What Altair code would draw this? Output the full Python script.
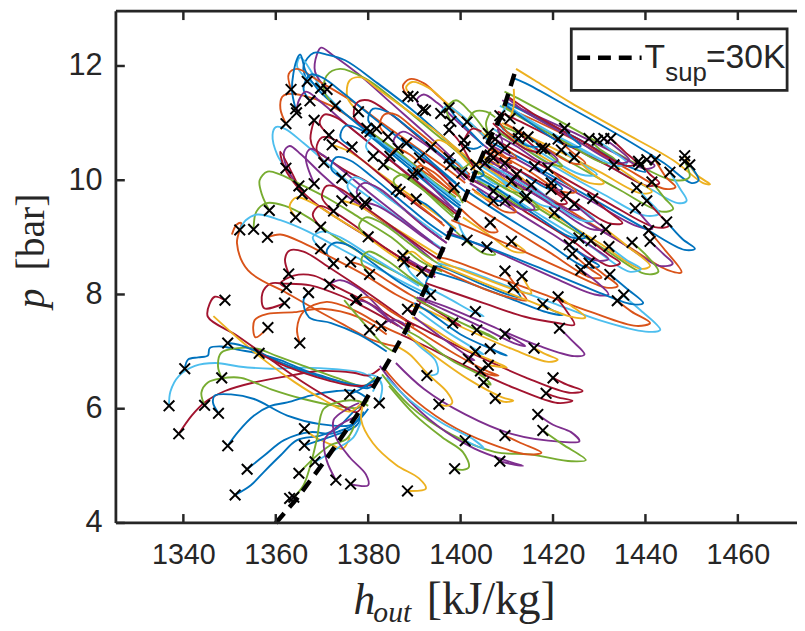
import altair as alt
import pandas as pd

# ---------------- axes ----------------
x_ticks = [1340, 1360, 1380, 1400, 1420, 1440, 1460]
y_ticks = [4, 6, 8, 10, 12]
X_DOMAIN = [1325.4, 1472.8]
Y_DOMAIN = [4.0, 12.96]

# ---------------- T_sup = 30K reference line ----------------
sup_h = [1360.0, 1364.6, 1371.0, 1377.5, 1384.6, 1388.2, 1392.5, 1396.0, 1400.5, 1403.5, 1406.0, 1408.9, 1412.1]
sup_p = [4.0, 4.43, 5.13, 5.88, 6.86, 7.38, 8.13, 8.77, 9.6, 10.2, 10.68, 11.14, 11.98]

# ---------------- start markers (x) ----------------
marker_h = [
    1363.3, 1366.8, 1369.7, 1371.1, 1367.4, 1364.3, 1364.5, 1362.2, 1368.3, 1372.9, 1377.9, 1379.7,
    1381.8, 1380.4, 1384.3, 1388.6, 1389.7, 1391.8, 1392.4, 1395.7, 1397.5, 1397.9, 1397.5, 1371.5,
    1372.2, 1376.5, 1370.4, 1381.1, 1384.7, 1386.5, 1388.3, 1383.3, 1393.6, 1391.1, 1397.5, 1389.7,
    1390.8, 1398.6, 1362.2, 1365.0, 1365.7, 1368.3, 1374.3, 1374.3, 1377.2, 1379.3, 1372.5, 1386.1,
    1386.9, 1390.4, 1358.6, 1364.3, 1352.2, 1355.2, 1358.2, 1369.7, 1380.0, 1369.7, 1387.5,
    1401.4, 1408.5, 1410.7, 1406.0, 1407.5, 1400.7, 1401.0, 1406.8, 1406.4, 1412.5, 1414.6, 1412.5,
    1417.5, 1418.2, 1422.5, 1421.1, 1427.8, 1429.6, 1431.0, 1432.5, 1421.8, 1424.6, 1397.8, 1405.3,
    1407.1, 1409.6, 1438.5, 1440.3, 1442.1, 1438.8, 1448.5, 1449.6, 1448.5, 1433.2, 1445.3, 1441.4,
    1438.1, 1440.3, 1437.8, 1444.6, 1431.4, 1440.7, 1441.0, 1416.0, 1418.9, 1412.1, 1411.0, 1415.3,
    1419.6, 1419.6, 1407.1, 1409.6, 1407.1, 1414.3, 1422.8, 1424.6, 1428.6, 1420.3, 1406.4, 1411.0,
    1405.7, 1401.4, 1423.5, 1425.6, 1428.2, 1432.1, 1437.1, 1424.2, 1400.3, 1403.3, 1409.6, 1413.9,
    1427.8, 1426.0, 1432.3, 1435.3, 1433.9, 1421.1, 1417.8, 1409.6, 1413.3, 1411.4, 1403.2, 1398.3,
    1403.5, 1409.6, 1421.4, 1415.9, 1403.2, 1401.7, 1406.4, 1406.0, 1404.3, 1405.0, 1407.5, 1420.0,
    1418.5, 1395.3, 1416.7, 1417.8, 1409.6, 1401.0, 1408.5, 1398.7,
    1379.6, 1387.8, 1391.6, 1380.3, 1377.5, 1388.5, 1393.5, 1380.3, 1382.8, 1392.7, 1382.4, 1388.5,
    1372.5, 1376.2,
    1349.0, 1362.8, 1362.3, 1367.1, 1371.6, 1361.9, 1377.3, 1358.3, 1365.2, 1349.6, 1356.4, 1340.3,
    1348.3, 1336.9, 1344.6, 1347.6, 1339.0, 1349.6, 1353.8, 1351.2, 1376.0, 1366.2, 1366.2, 1368.5,
    1365.0, 1373.0, 1376.2, 1363.0, 1363.9,
]
marker_p = [
    11.59, 11.73, 11.61, 11.59, 11.39, 11.25, 11.18, 10.99, 11.05, 11.30, 11.20, 10.91,
    10.90, 10.85, 10.76, 11.47, 11.46, 11.24, 11.22, 11.17, 11.27, 11.03, 10.88, 10.79,
    10.62, 10.58, 10.31, 10.42, 10.42, 10.56, 10.65, 10.27, 10.58, 10.39, 10.39, 10.10,
    10.13, 9.87, 10.21, 9.90, 9.76, 9.94, 10.04, 9.64, 9.69, 9.61, 9.46, 9.84,
    9.80, 9.67, 9.47, 9.35, 9.13, 9.14, 9.00, 9.18, 9.01, 8.80, 8.68,
    11.02, 11.13, 11.08, 10.82, 10.72, 10.70, 10.59, 10.57, 10.44, 10.84, 10.76, 10.73,
    10.56, 10.55, 10.91, 10.72, 10.73, 10.70, 10.73, 10.73, 10.53, 10.40, 10.27, 10.30,
    10.39, 10.30, 10.33, 10.36, 10.36, 10.27, 10.43, 10.27, 10.33, 10.27, 10.14, 9.97,
    9.87, 9.64, 9.51, 9.27, 9.14, 9.12, 8.93, 10.24, 10.21, 10.10, 9.98, 9.92,
    9.95, 9.84, 9.81, 9.64, 9.64, 9.72, 9.72, 9.58, 9.68, 9.43, 9.26, 8.93,
    8.83, 8.95, 8.87, 8.99, 8.94, 8.84, 8.91, 8.71, 10.13, 10.27, 10.56, 9.69,
    8.55, 8.43, 8.35, 7.99, 7.89, 7.96, 7.83, 8.41, 8.32, 8.12, 7.70, 7.50,
    7.38, 7.31, 7.41, 7.06, 7.00, 6.87, 7.05, 6.76, 6.66, 6.46, 6.18, 6.54,
    6.27, 6.08, 5.90, 5.62, 5.53, 5.44, 5.08, 4.95,
    9.58, 8.57, 8.41, 8.35, 7.91, 7.74, 7.99, 7.38, 7.45, 6.58, 6.10, 4.56,
    8.54, 8.57,
    7.90, 8.36, 8.12, 8.03, 8.18, 7.85, 7.90, 7.42, 7.15, 7.15, 6.97, 6.70,
    6.54, 6.05, 6.06, 5.92, 5.56, 5.35, 4.94, 4.49, 6.25, 5.65, 5.36, 5.07,
    4.87, 4.75, 4.68, 4.43, 4.45,
]

# ---------------- trajectories (colour key, [(h, p), ...]) ----------------
lower_left_tracks = [
    ("c", [(1336.9, 6.05), (1337.2, 6.3), (1339.0, 6.57), (1342.5, 6.75), (1347.0, 6.8), (1352.0, 6.74), (1359.0, 6.7), (1366.0, 6.72), (1373.0, 6.69), (1379.0, 6.62), (1381.5, 6.45), (1381.0, 6.3)]),
    ("b", [(1340.3, 6.7), (1341.0, 6.86), (1343.2, 6.9), (1345.3, 6.93), (1345.7, 7.06), (1348.2, 7.09), (1352.0, 7.03), (1356.0, 6.97), (1361.0, 6.85), (1366.0, 6.68), (1371.0, 6.55), (1376.0, 6.43), (1380.0, 6.36), (1382.0, 6.5)]),
    ("r", [(1339.0, 5.56), (1341.8, 5.88), (1344.6, 6.11), (1349.0, 6.31), (1355.3, 6.46), (1362.5, 6.57), (1369.6, 6.66), (1376.8, 6.63), (1380.0, 6.58), (1382.5, 6.7)]),
    ("g", [(1348.3, 6.54), (1347.5, 6.74), (1348.2, 6.98), (1351.8, 7.06), (1356.0, 7.05), (1360.3, 6.92), (1366.0, 6.75), (1373.2, 6.54), (1379.0, 6.4), (1381.5, 6.55)]),
    ("g", [(1344.6, 6.06), (1343.9, 6.28), (1345.3, 6.46), (1348.2, 6.53), (1352.5, 6.54), (1359.0, 6.34), (1366.0, 6.17), (1373.2, 6.05), (1378.0, 6.02), (1380.0, 6.15)]),
    ("b", [(1347.6, 5.92), (1346.4, 6.11), (1346.8, 6.23), (1350.3, 6.25), (1355.3, 6.17), (1362.5, 5.88), (1369.6, 5.73), (1376.0, 5.71), (1378.5, 5.85), (1380.0, 6.0)]),
    ("b", [(1349.6, 5.35), (1351.8, 5.59), (1355.3, 5.88), (1358.9, 6.05), (1362.5, 6.11), (1367.5, 6.23), (1373.2, 6.31), (1377.0, 6.31), (1379.5, 6.2)]),
    ("b", [(1353.8, 4.94), (1357.5, 5.18), (1361.8, 5.45), (1367.5, 5.59), (1371.8, 5.56), (1373.5, 5.6), (1376.8, 5.72), (1378.5, 5.9)]),
    ("b", [(1351.2, 4.49), (1354.6, 4.66), (1357.5, 4.9), (1361.0, 5.18), (1364.6, 5.45), (1369.6, 5.53), (1373.2, 5.65), (1376.0, 5.88), (1378.0, 6.05)]),
    ("r", [(1349.0, 7.9), (1346.8, 7.96), (1345.7, 7.84), (1345.3, 7.61), (1351.8, 7.27), (1358.9, 6.86), (1366.0, 6.46), (1373.2, 6.11), (1377.5, 5.94), (1379.0, 6.1)]),
    ("y", [(1346.5, 7.62), (1352.0, 7.22), (1358.0, 6.82), (1364.0, 6.47), (1370.0, 6.17), (1376.0, 5.95), (1378.5, 6.1)]),
    ("b", [(1349.6, 7.15), (1352.0, 7.12), (1356.0, 7.0), (1362.0, 6.78), (1368.0, 6.6), (1375.0, 6.45), (1380.0, 6.38)]),
    ("r", [(1356.4, 6.97), (1362.0, 6.75), (1369.0, 6.55), (1377.0, 6.4), (1381.0, 6.42)]),
    ("y", [(1366.2, 5.65), (1368.5, 5.5), (1371.8, 5.38), (1374.5, 5.3), (1376.0, 5.5)]),
    ("b", [(1366.2, 5.36), (1370.3, 5.47), (1374.6, 5.59), (1377.5, 5.71), (1379.0, 5.95)]),
    ("g", [(1363.9, 4.45), (1366.0, 4.66), (1367.5, 5.01), (1368.9, 5.47), (1370.3, 5.99), (1373.2, 6.11), (1377.5, 6.14), (1380.0, 6.05)]),
    ("g", [(1365.0, 4.87), (1368.2, 5.13), (1371.8, 5.36), (1375.3, 5.47), (1377.0, 5.7)]),
    ("c", [(1368.5, 5.07), (1373.2, 5.3), (1376.8, 5.5), (1378.5, 5.8)]),
    ("p", [(1376.2, 4.68), (1380.0, 4.66), (1379.5, 4.85), (1376.0, 5.15), (1373.0, 5.5), (1372.5, 5.8), (1375.5, 6.0), (1378.0, 6.1)]),
    ("p", [(1373.0, 4.75), (1371.0, 5.1), (1370.5, 5.45), (1373.5, 5.7), (1377.0, 5.85)]),
    ("y", [(1388.5, 4.56), (1392.5, 4.6), (1391.0, 4.78), (1386.0, 5.02), (1381.0, 5.4), (1378.5, 5.8), (1379.0, 6.1)]),
    ("r", [(1362.3, 8.12), (1361.0, 8.19), (1363.9, 8.33), (1368.2, 8.33), (1373.2, 8.13), (1380.3, 7.84), (1386.0, 7.55), (1389.0, 7.4)]),
    ("r", [(1361.9, 7.85), (1357.5, 7.76), (1357.1, 8.02), (1358.9, 8.19), (1361.8, 8.19), (1367.5, 8.16), (1374.6, 7.96), (1380.3, 7.73), (1386.5, 7.45)]),
    ("o", [(1358.3, 7.42), (1355.6, 7.25), (1355.4, 7.55), (1358.2, 7.66), (1364.0, 7.69), (1370.0, 7.75), (1378.0, 7.6), (1384.0, 7.3)]),
    ("o", [(1365.2, 7.15), (1364.6, 7.4), (1366.0, 7.7), (1371.0, 7.87), (1377.0, 7.72), (1383.0, 7.45), (1387.0, 7.3)]),
    ("o", [(1350.5, 9.05), (1351.5, 9.22), (1352.5, 9.25), (1351.6, 8.9), (1354.0, 8.42), (1362.5, 8.02), (1369.0, 7.72), (1375.4, 7.44), (1381.0, 7.2), (1386.0, 7.09)]),
    ("b", [(1367.1, 8.03), (1366.0, 7.9), (1367.2, 7.6), (1372.0, 7.5), (1378.0, 7.3), (1384.0, 7.0)]),
    ("p", [(1371.6, 8.18), (1374.0, 8.25), (1378.0, 8.1), (1382.5, 7.75), (1385.0, 7.5)]),
    ("r", [(1362.8, 8.36), (1362.0, 8.62), (1363.0, 8.77), (1366.0, 8.75), (1372.0, 8.45), (1380.0, 8.02), (1387.0, 7.62), (1390.0, 7.45)]),
    ("b", [(1376.0, 6.25), (1378.5, 6.35), (1381.0, 6.48), (1383.0, 6.55)]),
    ("c", [(1382.4, 6.1), (1383.0, 6.4), (1382.0, 6.55), (1380.0, 6.6)]),
    ("p", [(1377.3, 7.9), (1380.0, 7.85), (1384.0, 7.6), (1387.5, 7.4)]),
    ("g", [(1374.8, 7.9), (1380.3, 7.38), (1383.5, 7.1), (1385.5, 7.0)]),
    ("p", [(1382.8, 7.45), (1385.0, 7.55), (1387.5, 7.5), (1389.0, 7.35)]),
]

upper_left_tracks = [
    ("p", [(1371.1, 11.59), (1368.5, 11.9), (1368.9, 12.2), (1369.8, 12.32), (1372.5, 12.18), (1378.0, 11.85), (1385.0, 11.35), (1392.0, 10.85), (1398.0, 10.4), (1402.0, 10.05)]),
    ("b", [(1366.8, 11.73), (1366.0, 12.0), (1368.2, 12.23), (1371.0, 12.2), (1375.0, 12.1), (1382.0, 11.7), (1390.0, 11.2), (1397.0, 10.7), (1403.0, 10.25)]),
    ("c", [(1369.7, 11.61), (1365.3, 12.15), (1364.6, 12.0), (1366.0, 11.83), (1369.6, 11.6), (1373.9, 11.25), (1379.6, 10.85), (1386.0, 10.4), (1393.0, 9.95), (1399.0, 9.55)]),
    ("o", [(1363.3, 11.59), (1362.8, 11.86), (1364.6, 11.95), (1369.6, 11.72), (1376.8, 11.37), (1383.0, 11.0), (1390.0, 10.6), (1397.0, 10.2), (1401.0, 9.95)]),
    ("o", [(1362.2, 10.99), (1361.0, 11.25), (1361.4, 11.46), (1362.5, 11.51), (1366.0, 11.48), (1371.8, 11.31), (1379.6, 10.9), (1386.0, 10.5), (1393.0, 10.1), (1400.0, 9.7)]),
    ("c", [(1362.2, 10.21), (1360.3, 10.45), (1359.3, 10.79), (1360.0, 10.93), (1362.0, 10.9), (1366.0, 10.65), (1371.0, 10.3), (1376.0, 9.95), (1382.0, 9.6), (1389.0, 9.2), (1396.0, 8.8)]),
    ("r", [(1368.3, 11.05), (1367.5, 10.73), (1368.2, 10.56), (1371.0, 10.39), (1375.3, 10.16), (1379.6, 9.98), (1386.0, 9.6), (1392.0, 9.2), (1397.0, 8.9)]),
    ("p", [(1365.0, 9.9), (1362.5, 10.2), (1361.8, 10.5), (1363.0, 10.6), (1365.5, 10.45), (1370.0, 10.1), (1375.0, 9.75), (1381.0, 9.4), (1388.0, 9.0), (1394.0, 8.6)]),
    ("p", [(1368.3, 9.94), (1366.5, 10.4), (1367.5, 10.55), (1370.0, 10.45), (1374.0, 10.2), (1380.0, 9.8), (1387.0, 9.35), (1394.0, 8.9)]),
    ("r", [(1365.7, 9.76), (1361.0, 10.5), (1361.5, 10.3), (1363.5, 10.0), (1368.5, 9.6), (1374.0, 9.3), (1381.0, 8.95), (1388.0, 8.6), (1394.0, 8.4)]),
    ("g", [(1358.6, 9.47), (1357.0, 9.75), (1356.5, 10.0), (1358.2, 10.15), (1361.0, 10.1), (1366.0, 9.9), (1372.0, 9.65), (1378.0, 9.35), (1385.0, 9.0), (1391.0, 8.6), (1396.0, 8.4)]),
    ("g", [(1355.2, 9.14), (1355.8, 9.45), (1358.0, 9.6), (1362.0, 9.55), (1367.0, 9.35), (1373.0, 9.0), (1380.0, 8.65), (1387.0, 8.35), (1393.0, 8.1)]),
    ("c", [(1352.2, 9.13), (1353.5, 9.3), (1356.0, 9.4), (1361.0, 9.3), (1367.0, 9.1), (1374.0, 8.8), (1381.0, 8.5), (1388.0, 8.2), (1393.0, 8.0)]),
    ("b", [(1364.3, 11.25), (1363.5, 11.6), (1364.5, 12.1), (1365.3, 12.2), (1366.5, 11.9), (1369.0, 11.6), (1373.0, 11.3), (1379.0, 10.9), (1386.0, 10.45), (1393.0, 10.0), (1400.0, 9.55)]),
    ("g", [(1372.9, 11.3), (1370.5, 11.55), (1371.0, 11.83), (1373.9, 11.95), (1379.6, 11.77), (1385.0, 11.45), (1391.0, 11.05), (1397.0, 10.65), (1403.0, 10.25)]),
    ("y", [(1377.9, 11.2), (1375.5, 11.45), (1376.0, 11.75), (1378.5, 11.8), (1382.0, 11.6), (1388.0, 11.25), (1394.0, 10.9), (1400.0, 10.5), (1404.0, 10.25)]),
    ("o", [(1388.6, 11.47), (1387.5, 11.65), (1389.0, 11.77), (1392.0, 11.7), (1395.5, 11.45), (1399.0, 11.2), (1404.0, 10.85), (1407.0, 10.6)]),
    ("y", [(1389.7, 11.46), (1388.2, 11.62), (1389.5, 11.72), (1393.0, 11.62), (1397.0, 11.35), (1402.0, 11.0), (1406.0, 10.75)]),
    ("b", [(1367.4, 11.39), (1366.0, 11.6), (1367.5, 11.85), (1370.0, 11.8), (1375.0, 11.5), (1381.0, 11.1), (1388.0, 10.65), (1395.0, 10.2), (1401.0, 9.8)]),
    ("p", [(1364.5, 11.18), (1365.0, 11.4), (1366.5, 11.55), (1370.0, 11.35), (1375.0, 11.0), (1381.0, 10.6), (1388.0, 10.15), (1395.0, 9.7), (1400.0, 9.4)]),
    ("r", [(1379.7, 10.91), (1377.0, 11.1), (1377.5, 11.35), (1380.0, 11.4), (1385.0, 11.15), (1391.0, 10.75), (1397.0, 10.35), (1402.0, 10.0)]),
    ("b", [(1381.8, 10.9), (1380.0, 11.05), (1381.0, 11.25), (1384.0, 11.2), (1389.0, 10.9), (1395.0, 10.5), (1401.0, 10.1)]),
    ("g", [(1380.4, 10.85), (1383.0, 10.7), (1388.0, 10.4), (1393.0, 10.05), (1399.0, 9.7)]),
    ("o", [(1384.3, 10.76), (1382.5, 10.95), (1383.5, 11.15), (1386.0, 11.15), (1390.0, 10.9), (1396.0, 10.5), (1402.0, 10.1)]),
    ("p", [(1391.8, 11.24), (1390.5, 11.4), (1392.0, 11.5), (1395.0, 11.35), (1399.0, 11.05), (1403.0, 10.75), (1406.0, 10.55)]),
    ("c", [(1395.7, 11.17), (1397.0, 11.3), (1400.0, 11.15), (1403.5, 10.9), (1406.5, 10.65)]),
    ("b", [(1397.5, 11.27), (1399.0, 11.1), (1401.5, 10.9), (1405.0, 10.6)]),
    ("g", [(1397.9, 11.03), (1397.0, 11.25), (1399.0, 11.4), (1402.0, 11.2), (1405.0, 10.9), (1406.5, 10.7)]),
    ("r", [(1397.5, 10.88), (1399.5, 10.7), (1401.0, 10.5), (1403.0, 10.2)]),
    ("r", [(1371.5, 10.79), (1369.5, 11.0), (1370.5, 11.15), (1373.0, 11.1), (1378.0, 10.8), (1384.0, 10.4), (1390.0, 10.0), (1396.0, 9.6), (1400.0, 9.35)]),
    ("y", [(1372.2, 10.62), (1376.0, 10.5), (1382.0, 10.15), (1388.0, 9.8), (1394.0, 9.45), (1399.0, 9.15)]),
    ("b", [(1376.5, 10.58), (1374.0, 10.75), (1375.0, 10.95), (1378.0, 10.9), (1383.0, 10.6), (1389.0, 10.2), (1395.0, 9.8), (1400.0, 9.5)]),
    ("r", [(1370.4, 10.31), (1368.8, 10.55), (1370.0, 10.75), (1373.0, 10.7), (1378.0, 10.4), (1384.0, 10.0), (1390.0, 9.6), (1396.0, 9.25)]),
    ("c", [(1381.1, 10.42), (1379.5, 10.6), (1381.0, 10.75), (1384.0, 10.6), (1389.0, 10.3), (1395.0, 9.9), (1400.0, 9.6)]),
    ("o", [(1384.7, 10.42), (1386.0, 10.55), (1389.0, 10.45), (1393.0, 10.15), (1398.0, 9.8)]),
    ("p", [(1386.5, 10.56), (1385.5, 10.7), (1387.5, 10.85), (1391.0, 10.7), (1396.0, 10.4), (1401.0, 10.0)]),
    ("b", [(1388.3, 10.65), (1390.5, 10.55), (1394.0, 10.3), (1399.0, 9.95)]),
    ("g", [(1383.3, 10.27), (1385.0, 10.2), (1389.0, 10.0), (1394.0, 9.7), (1398.5, 9.4)]),
    ("y", [(1393.6, 10.58), (1395.0, 10.7), (1398.0, 10.6), (1401.0, 10.35), (1404.0, 10.1)]),
    ("r", [(1391.1, 10.39), (1393.0, 10.3), (1396.0, 10.1), (1399.0, 9.85)]),
    ("c", [(1397.5, 10.39), (1399.5, 10.3), (1401.5, 10.1)]),
    ("o", [(1389.7, 10.1), (1391.0, 10.25), (1394.0, 10.15), (1397.5, 9.9), (1400.0, 9.7)]),
    ("p", [(1390.8, 10.13), (1393.0, 9.95), (1396.0, 9.7), (1398.5, 9.5)]),
    ("g", [(1398.6, 9.87), (1399.5, 9.75), (1400.5, 9.6)]),
    ("b", [(1374.3, 10.04), (1372.0, 10.2), (1373.0, 10.4), (1376.0, 10.35), (1381.0, 10.05), (1387.0, 9.65), (1393.0, 9.25), (1397.5, 9.0)]),
    ("y", [(1374.3, 9.64), (1378.0, 9.55), (1383.0, 9.3), (1389.0, 9.0), (1395.0, 8.7)]),
    ("c", [(1377.2, 9.69), (1375.5, 9.9), (1377.0, 10.05), (1380.0, 9.95), (1385.0, 9.65), (1391.0, 9.3), (1396.0, 9.0)]),
    ("p", [(1379.3, 9.61), (1382.0, 9.55), (1387.0, 9.3), (1392.0, 9.0), (1396.5, 8.75)]),
    ("r", [(1372.5, 9.46), (1370.0, 9.7), (1371.0, 9.9), (1374.0, 9.85), (1379.0, 9.55), (1385.0, 9.2), (1391.0, 8.85), (1395.5, 8.6)]),
    ("o", [(1386.1, 9.84), (1388.0, 9.75), (1392.0, 9.5), (1396.5, 9.2)]),
    ("g", [(1386.9, 9.8), (1385.5, 10.0), (1387.5, 10.1), (1391.0, 9.9), (1395.0, 9.6), (1398.5, 9.35)]),
    ("b", [(1390.4, 9.67), (1393.0, 9.55), (1396.5, 9.3), (1399.0, 9.1)]),
    ("y", [(1364.3, 9.35), (1363.0, 9.55), (1364.5, 9.7), (1368.0, 9.6), (1373.0, 9.35), (1379.0, 9.05), (1385.0, 8.7), (1390.0, 8.45), (1394.0, 8.3)]),
    ("r", [(1369.7, 9.18), (1368.0, 9.4), (1369.5, 9.55), (1372.5, 9.45), (1378.0, 9.15), (1384.0, 8.8), (1390.0, 8.5), (1394.5, 8.35)]),
    ("g", [(1380.0, 9.01), (1378.0, 9.2), (1379.5, 9.35), (1383.0, 9.25), (1388.0, 8.95), (1393.0, 8.65), (1396.0, 8.5)]),
    ("c", [(1369.7, 8.8), (1368.0, 9.0), (1370.0, 9.1), (1374.0, 9.0), (1380.0, 8.7), (1386.0, 8.4), (1391.0, 8.15)]),
    ("p", [(1387.5, 8.68), (1389.0, 8.6), (1392.0, 8.45), (1394.5, 8.3)]),
    ("b", [(1372.5, 8.54), (1371.0, 8.75), (1372.5, 8.9), (1376.0, 8.85), (1381.0, 8.55), (1387.0, 8.2), (1391.5, 8.0)]),
    ("o", [(1376.2, 8.57), (1379.0, 8.5), (1384.0, 8.25), (1389.0, 8.0), (1392.5, 7.85)]),
    ("p", [(1379.6, 9.58), (1377.5, 9.8), (1379.0, 9.95), (1382.5, 9.85), (1387.0, 9.55), (1392.0, 9.2), (1397.0, 8.9)]),
    ("y", [(1387.8, 8.68), (1389.5, 8.75), (1392.0, 8.6), (1395.0, 8.45)]),
    ("c", [(1387.8, 8.57), (1389.0, 8.4), (1391.5, 8.2), (1393.0, 8.1)]),
    ("b", [(1391.6, 8.41), (1393.0, 8.3), (1394.5, 8.45)]),
    ("g", [(1380.3, 8.35), (1378.5, 8.6), (1380.0, 8.75), (1384.0, 8.6), (1389.0, 8.3), (1393.0, 8.1)]),
    ("o", [(1377.5, 7.91), (1380.0, 7.95), (1385.0, 7.7), (1390.0, 7.45)]),
    ("r", [(1388.5, 7.74), (1390.0, 7.7), (1391.5, 7.9)]),
    ("b", [(1393.5, 7.99), (1392.5, 8.2), (1393.5, 8.35)]),
    ("c", [(1392.7, 6.58), (1395.0, 6.62), (1394.5, 6.85), (1391.0, 7.1), (1388.0, 7.35)]),
    ("o", [(1358.2, 9.0), (1361.0, 9.05), (1366.0, 8.9), (1372.0, 8.65), (1379.0, 8.35), (1386.0, 8.0), (1391.0, 7.8)]),
]

upper_right_tracks = [
    ("y", [(1448.5, 10.43), (1451.0, 10.1), (1454.0, 9.93), (1452.5, 9.95), (1446.0, 10.35), (1435.0, 10.85), (1424.0, 11.35), (1416.0, 11.75), (1412.0, 11.95)]),
    ("b", [(1449.6, 10.27), (1451.5, 10.0), (1450.0, 9.95), (1444.0, 10.3), (1434.0, 10.8), (1423.0, 11.3), (1414.0, 11.7), (1411.0, 11.8)]),
    ("g", [(1448.5, 10.33), (1449.5, 10.05), (1446.0, 10.0), (1440.0, 10.2), (1430.0, 10.65), (1420.0, 11.1), (1412.0, 11.45), (1409.5, 11.55)]),
    ("c", [(1445.3, 10.14), (1447.5, 9.85), (1448.9, 9.64), (1447.0, 9.6), (1441.0, 9.85), (1431.0, 10.3), (1420.0, 10.8), (1411.0, 11.2), (1408.5, 11.3)]),
    ("o", [(1442.1, 10.36), (1444.5, 10.05), (1446.5, 9.88), (1444.0, 9.85), (1436.0, 10.2), (1426.0, 10.65), (1416.0, 11.05), (1409.0, 11.3)]),
    ("p", [(1440.3, 10.36), (1442.0, 10.25), (1440.0, 10.2), (1434.0, 10.45), (1424.0, 10.85), (1413.0, 11.25), (1409.0, 11.4)]),
    ("r", [(1438.5, 10.33), (1441.0, 10.1), (1443.0, 9.95), (1440.5, 9.9), (1432.0, 10.25), (1421.0, 10.7), (1411.0, 11.1), (1408.0, 11.2)]),
    ("b", [(1438.8, 10.27), (1440.0, 10.15), (1436.0, 10.25), (1426.0, 10.7), (1415.0, 11.15), (1410.0, 11.35)]),
    ("y", [(1433.2, 10.27), (1438.0, 10.0), (1441.4, 9.8), (1439.0, 9.77), (1430.0, 10.15), (1419.0, 10.6), (1409.0, 11.0)]),
    ("g", [(1441.4, 9.97), (1444.0, 9.7), (1446.0, 9.5), (1443.5, 9.45), (1434.0, 9.85), (1423.0, 10.35), (1413.0, 10.8), (1407.5, 11.0)]),
    ("c", [(1438.1, 9.87), (1440.5, 9.65), (1443.0, 9.42), (1440.0, 9.38), (1431.0, 9.75), (1420.0, 10.25), (1411.0, 10.7), (1407.0, 10.9)]),
    ("r", [(1440.3, 9.64), (1443.0, 9.4), (1445.0, 9.2), (1442.0, 9.18), (1432.0, 9.6), (1420.0, 10.15), (1410.0, 10.6), (1406.5, 10.75)]),
    ("p", [(1437.8, 9.51), (1440.0, 9.3), (1441.5, 9.15), (1438.0, 9.2), (1428.0, 9.65), (1417.0, 10.15), (1408.0, 10.55), (1405.5, 10.65)]),
    ("b", [(1444.6, 9.27), (1448.0, 8.97), (1450.7, 8.8), (1448.5, 8.78), (1440.0, 9.15), (1428.0, 9.7), (1416.0, 10.25), (1407.0, 10.65)]),
    ("o", [(1440.7, 9.12), (1444.0, 8.8), (1447.8, 8.39), (1445.0, 8.42), (1436.0, 8.85), (1424.0, 9.45), (1413.0, 10.0), (1405.5, 10.4)]),
    ("p", [(1441.0, 8.93), (1444.0, 8.7), (1445.9, 8.54), (1443.0, 8.5), (1434.0, 8.95), (1422.0, 9.5), (1411.0, 10.05), (1404.5, 10.35)]),
    ("y", [(1431.4, 9.14), (1436.0, 8.85), (1441.0, 8.5), (1439.0, 8.45), (1430.0, 8.9), (1419.0, 9.45), (1409.0, 9.95), (1404.0, 10.2)]),
    ("g", [(1437.1, 8.91), (1440.0, 8.7), (1442.8, 8.4), (1440.0, 8.36), (1431.0, 8.8), (1420.0, 9.35), (1410.0, 9.85), (1403.5, 10.15)]),
    ("c", [(1432.1, 8.84), (1436.0, 8.6), (1439.0, 8.45), (1436.5, 8.4), (1428.0, 8.85), (1418.0, 9.35), (1408.0, 9.85), (1403.0, 10.05)]),
    ("r", [(1428.2, 8.94), (1432.0, 8.7), (1434.5, 8.55), (1432.0, 8.5), (1424.0, 8.95), (1414.0, 9.45), (1406.0, 9.85), (1402.5, 10.0)]),
    ("p", [(1425.6, 8.99), (1430.0, 8.75), (1432.0, 8.62), (1429.0, 8.6), (1420.0, 9.05), (1410.0, 9.55), (1402.0, 9.95)]),
    ("b", [(1423.5, 8.87), (1427.0, 8.65), (1430.0, 8.5), (1427.0, 8.48), (1418.0, 8.95), (1408.0, 9.45), (1401.5, 9.8)]),
    ("o", [(1424.2, 8.71), (1428.0, 8.45), (1430.5, 8.3), (1428.0, 8.3), (1419.0, 8.75), (1409.0, 9.25), (1401.0, 9.65)]),
    ("g", [(1427.8, 10.73), (1430.0, 10.55), (1433.5, 10.35), (1431.0, 10.3), (1423.0, 10.65), (1414.0, 11.05), (1409.0, 11.3)]),
    ("c", [(1429.6, 10.7), (1433.0, 10.5), (1436.0, 10.3), (1434.0, 10.25), (1425.0, 10.6), (1415.0, 11.05), (1409.5, 11.35)]),
    ("p", [(1431.0, 10.73), (1434.0, 10.55), (1436.5, 10.35), (1434.0, 10.3), (1425.0, 10.7), (1414.0, 11.2), (1410.0, 11.45)]),
    ("r", [(1432.5, 10.73), (1435.5, 10.5), (1438.0, 10.3), (1436.0, 10.25), (1427.0, 10.65), (1417.0, 11.1), (1410.5, 11.45)]),
    ("b", [(1422.5, 10.91), (1424.0, 10.75), (1426.0, 10.6), (1423.0, 10.6), (1416.0, 10.95), (1410.0, 11.3)]),
    ("o", [(1421.1, 10.72), (1424.0, 10.5), (1427.0, 10.3), (1424.0, 10.3), (1416.0, 10.7), (1409.5, 11.0)]),
    ("c", [(1421.8, 10.53), (1426.0, 10.3), (1429.5, 10.1), (1426.0, 10.1), (1417.0, 10.5), (1409.0, 10.9)]),
    ("y", [(1424.6, 10.4), (1428.0, 10.15), (1431.0, 9.95), (1428.0, 9.95), (1419.0, 10.35), (1409.0, 10.85)]),
    ("g", [(1417.5, 10.56), (1420.0, 10.4), (1422.0, 10.25), (1419.0, 10.3), (1413.0, 10.6), (1408.0, 10.85)]),
    ("p", [(1418.2, 10.55), (1421.0, 10.35), (1418.0, 10.3), (1412.0, 10.6), (1407.5, 10.8)]),
    ("r", [(1412.5, 10.84), (1415.0, 10.65), (1417.0, 10.5), (1414.0, 10.55), (1409.0, 10.85), (1407.0, 11.0)]),
    ("b", [(1414.6, 10.76), (1417.0, 10.6), (1414.5, 10.6), (1410.0, 10.85), (1408.0, 11.0)]),
    ("o", [(1412.5, 10.73), (1410.0, 10.85), (1408.5, 11.0)]),
    ("c", [(1408.5, 11.13), (1409.5, 11.25), (1410.5, 11.5)]),
    ("y", [(1410.7, 11.08), (1411.5, 11.3), (1411.5, 11.6)]),
    ("g", [(1406.0, 10.82), (1405.5, 11.0), (1406.5, 11.2)]),
    ("p", [(1407.5, 10.72), (1409.0, 10.65), (1408.0, 10.9)]),
    ("r", [(1400.7, 10.7), (1402.5, 10.9), (1404.5, 10.85)]),
    ("b", [(1401.0, 10.59), (1403.0, 10.55), (1404.5, 10.6)]),
    ("o", [(1406.8, 10.57), (1409.0, 10.45), (1411.0, 10.3), (1409.0, 10.35), (1406.0, 10.5)]),
    ("y", [(1406.4, 10.44), (1408.5, 10.3), (1406.0, 10.3), (1405.0, 10.45)]),
    ("g", [(1397.8, 10.27), (1400.0, 10.2), (1402.0, 10.3)]),
    ("c", [(1405.3, 10.3), (1407.5, 10.1), (1410.0, 9.9), (1407.0, 9.95), (1404.0, 10.15)]),
    ("p", [(1407.1, 10.39), (1410.0, 10.2), (1408.0, 10.15), (1405.0, 10.3)]),
    ("r", [(1409.6, 10.3), (1413.0, 10.05), (1416.0, 9.85), (1413.0, 9.85), (1408.0, 10.1), (1404.0, 10.3)]),
    ("b", [(1416.0, 10.24), (1419.0, 10.05), (1422.0, 9.85), (1419.0, 9.85), (1412.0, 10.2), (1405.0, 10.5)]),
    ("o", [(1418.9, 10.21), (1422.0, 10.0), (1425.0, 9.8), (1422.0, 9.8), (1414.0, 10.2), (1406.0, 10.55)]),
    ("y", [(1412.1, 10.1), (1415.0, 9.9), (1412.0, 9.9), (1407.0, 10.15), (1404.0, 10.3)]),
    ("g", [(1411.0, 9.98), (1413.5, 9.8), (1411.0, 9.8), (1406.0, 10.05), (1403.5, 10.15)]),
    ("c", [(1415.3, 9.92), (1418.0, 9.75), (1421.0, 9.55), (1418.0, 9.55), (1411.0, 9.9), (1404.5, 10.25)]),
    ("p", [(1419.6, 9.95), (1423.0, 9.7), (1426.0, 9.5), (1423.0, 9.5), (1415.0, 9.9), (1406.0, 10.35)]),
    ("r", [(1419.6, 9.84), (1423.0, 9.6), (1420.0, 9.6), (1413.0, 9.9), (1405.0, 10.3)]),
    ("b", [(1407.1, 9.81), (1409.0, 9.65), (1407.0, 9.65), (1403.5, 9.85)]),
    ("o", [(1409.6, 9.64), (1412.0, 9.45), (1409.5, 9.45), (1405.0, 9.7), (1402.5, 9.85)]),
    ("y", [(1407.1, 9.64), (1405.0, 9.7), (1403.0, 9.8)]),
    ("g", [(1414.3, 9.72), (1417.0, 9.5), (1414.0, 9.5), (1408.0, 9.8), (1403.5, 10.0)]),
    ("c", [(1422.8, 9.72), (1426.0, 9.5), (1429.0, 9.3), (1426.0, 9.3), (1418.0, 9.7), (1409.0, 10.15), (1404.0, 10.35)]),
    ("p", [(1424.6, 9.58), (1428.0, 9.35), (1431.0, 9.15), (1428.0, 9.15), (1420.0, 9.55), (1410.0, 10.05), (1404.5, 10.3)]),
    ("r", [(1428.6, 9.68), (1432.0, 9.45), (1435.0, 9.25), (1432.0, 9.25), (1423.0, 9.7), (1412.0, 10.2), (1405.0, 10.5)]),
    ("b", [(1420.3, 9.43), (1424.0, 9.2), (1427.0, 9.0), (1424.0, 9.0), (1416.0, 9.4), (1407.0, 9.9), (1402.5, 10.1)]),
    ("o", [(1406.4, 9.26), (1408.0, 9.1), (1406.0, 9.1), (1402.0, 9.35), (1400.0, 9.5)]),
    ("y", [(1411.0, 8.93), (1414.0, 8.75), (1411.5, 8.75), (1406.0, 9.05), (1400.5, 9.35)]),
    ("g", [(1405.7, 8.83), (1407.5, 8.7), (1405.0, 8.72), (1401.0, 8.95), (1399.0, 9.1)]),
    ("c", [(1401.4, 8.95), (1400.0, 9.15), (1399.5, 9.3)]),
    ("p", [(1413.9, 9.69), (1416.0, 9.5), (1413.0, 9.5), (1408.0, 9.75), (1403.0, 10.0)]),
    ("r", [(1400.3, 10.13), (1402.0, 10.05)]),
    ("b", [(1403.3, 10.27), (1405.0, 10.1), (1403.5, 10.05), (1402.5, 10.15)]),
    ("o", [(1409.6, 10.56), (1412.0, 10.4), (1409.5, 10.4), (1406.5, 10.55)]),
    ("g", [(1401.4, 11.02), (1403.0, 11.2), (1405.5, 11.2), (1407.5, 11.1)]),
]

lower_right_tracks = [
    ("c", [(1435.3, 7.97), (1439.0, 7.72), (1443.2, 7.38), (1440.0, 7.35), (1430.0, 7.55), (1420.0, 7.85), (1410.0, 8.15), (1400.0, 8.45), (1395.0, 8.55)]),
    ("o", [(1433.9, 7.89), (1437.0, 7.7), (1441.0, 7.5), (1438.0, 7.45), (1428.0, 7.7), (1418.0, 8.0), (1408.0, 8.3), (1398.0, 8.6), (1395.5, 8.65)]),
    ("b", [(1417.8, 7.83), (1420.0, 7.72), (1422.1, 7.64), (1419.0, 7.68), (1410.0, 7.95), (1400.0, 8.25), (1394.0, 8.4)]),
    ("r", [(1421.0, 7.92), (1423.0, 7.7), (1424.6, 7.47), (1421.0, 7.5), (1413.9, 7.61), (1405.0, 7.85), (1396.0, 8.1), (1392.5, 8.2)]),
    ("p", [(1421.4, 7.41), (1424.0, 7.2), (1426.8, 6.95), (1424.6, 6.92), (1417.0, 7.1), (1408.0, 7.4), (1398.0, 7.75), (1391.0, 7.95)]),
    ("y", [(1415.9, 7.06), (1418.5, 6.95), (1421.0, 6.86), (1419.0, 6.82), (1411.0, 7.05), (1401.0, 7.4), (1392.0, 7.75), (1389.5, 7.8)]),
    ("r", [(1420.0, 6.54), (1423.0, 6.42), (1426.4, 6.31), (1423.5, 6.28), (1414.0, 6.55), (1403.0, 6.95), (1393.0, 7.35), (1388.0, 7.55)]),
    ("r", [(1418.5, 6.27), (1421.0, 6.2), (1424.2, 6.14), (1421.0, 6.1), (1412.0, 6.35), (1401.0, 6.75), (1391.0, 7.15), (1387.0, 7.3)]),
    ("p", [(1416.7, 5.9), (1420.0, 5.72), (1423.9, 5.59), (1425.7, 5.43), (1422.0, 5.42), (1411.0, 5.56), (1401.0, 5.9), (1392.0, 6.35), (1386.0, 6.8)]),
    ("g", [(1417.8, 5.62), (1422.0, 5.38), (1427.1, 5.1), (1424.0, 5.08), (1415.0, 5.2), (1407.5, 5.24), (1398.0, 5.55), (1389.0, 6.05), (1383.0, 6.6)]),
    ("o", [(1409.6, 5.53), (1413.0, 5.4), (1417.5, 5.23), (1414.5, 5.2), (1406.0, 5.4), (1397.0, 5.75), (1388.0, 6.3), (1383.5, 6.7)]),
    ("p", [(1408.5, 5.08), (1411.0, 5.03), (1413.5, 5.0), (1411.0, 5.06), (1403.0, 5.3), (1395.0, 5.7), (1387.0, 6.3), (1382.5, 6.75)]),
    ("g", [(1398.7, 4.95), (1400.5, 4.93), (1401.8, 4.98), (1400.5, 5.24), (1396.0, 5.5), (1390.0, 5.9), (1384.5, 6.4)]),
    ("c", [(1401.0, 5.44), (1405.0, 5.3), (1403.0, 5.45), (1396.0, 5.75), (1389.0, 6.15), (1384.0, 6.55)]),
    ("y", [(1395.3, 6.08), (1397.0, 6.05), (1398.2, 6.11), (1397.0, 6.3), (1393.0, 6.6), (1389.0, 6.95), (1386.0, 7.1)]),
    ("y", [(1407.5, 6.18), (1409.5, 6.12), (1411.4, 6.14), (1409.0, 6.2), (1402.0, 6.5), (1394.0, 6.95), (1388.5, 7.3)]),
    ("y", [(1406.0, 6.76), (1408.0, 6.74), (1410.0, 6.72), (1408.0, 6.8), (1401.0, 7.05), (1393.0, 7.45), (1389.5, 7.6)]),
    ("o", [(1404.3, 6.66), (1406.0, 6.6), (1408.2, 6.58), (1406.0, 6.65), (1399.0, 6.95), (1392.0, 7.3), (1388.0, 7.5)]),
    ("g", [(1405.0, 6.46), (1406.5, 6.42), (1405.0, 6.55), (1398.0, 6.85), (1391.0, 7.25), (1387.5, 7.4)]),
    ("b", [(1406.4, 7.05), (1408.5, 6.97), (1410.0, 6.93), (1408.0, 7.0), (1400.0, 7.3), (1393.0, 7.7), (1390.0, 7.85)]),
    ("c", [(1403.2, 7.0), (1405.0, 6.95), (1403.0, 7.05), (1397.0, 7.35), (1391.0, 7.7)]),
    ("p", [(1401.7, 6.87), (1403.0, 6.85), (1401.0, 6.95), (1395.0, 7.3), (1390.0, 7.6)]),
    ("o", [(1409.6, 8.41), (1412.0, 8.15), (1414.3, 7.9), (1412.0, 7.92), (1405.0, 8.1), (1398.0, 8.35), (1394.0, 8.5)]),
    ("y", [(1413.3, 8.32), (1414.5, 8.15), (1415.3, 8.02), (1413.0, 8.05), (1406.0, 8.25), (1398.0, 8.5), (1395.0, 8.6)]),
    ("b", [(1411.4, 8.12), (1413.0, 7.95), (1411.0, 7.98), (1404.0, 8.2), (1397.0, 8.45), (1394.5, 8.5)]),
    ("c", [(1403.2, 7.7), (1405.0, 7.62), (1403.0, 7.68), (1397.0, 7.95), (1392.0, 8.15)]),
    ("r", [(1398.3, 7.5), (1400.0, 7.45), (1398.0, 7.55), (1393.0, 7.8), (1390.5, 7.9)]),
    ("g", [(1403.5, 7.38), (1406.0, 7.3), (1408.0, 7.2), (1406.0, 7.28), (1399.0, 7.55), (1392.0, 7.85), (1390.0, 7.95)]),
    ("p", [(1409.6, 7.31), (1412.0, 7.2), (1414.0, 7.1), (1411.5, 7.15), (1404.0, 7.45), (1396.0, 7.75), (1390.5, 7.95)]),
    ("y", [(1421.1, 7.96), (1424.0, 7.8), (1427.0, 7.6), (1424.5, 7.6), (1416.0, 7.85), (1405.0, 8.2), (1396.0, 8.5)]),
    ("o", [(1427.8, 8.55), (1431.0, 8.35), (1434.0, 8.15), (1431.5, 8.12), (1422.0, 8.45), (1411.0, 8.85), (1401.0, 9.2), (1398.0, 9.3)]),
    ("p", [(1426.0, 8.43), (1429.0, 8.25), (1432.0, 8.0), (1429.0, 8.0), (1420.0, 8.3), (1409.0, 8.7), (1400.0, 9.0), (1397.0, 9.1)]),
    ("b", [(1432.3, 8.35), (1436.0, 8.1), (1439.5, 7.85), (1437.0, 7.83), (1428.0, 8.1), (1416.0, 8.5), (1405.0, 8.85), (1397.5, 9.05)]),
]

COLORS = {"b": "#0072BD", "o": "#D95319", "y": "#EDB120", "p": "#7E2F8E",
          "g": "#77AC30", "c": "#4DBEEE", "r": "#A2142F"}

# ---------------- tables ----------------
rows = []
tid = 0
for group in (lower_left_tracks, upper_left_tracks, upper_right_tracks, lower_right_tracks):
    for col, pts in group:
        for k, (h, p) in enumerate(pts):
            rows.append({"tid": tid, "k": k, "h": h, "p": p, "c": col})
        tid += 1
tracks_df = pd.DataFrame(rows)
markers_df = pd.DataFrame({"h": marker_h, "p": marker_p})
sup_df = pd.DataFrame({"h": sup_h, "p": sup_p, "k": list(range(len(sup_h)))})
xt_df = pd.DataFrame({"t": x_ticks})
yt_df = pd.DataFrame({"t": y_ticks})
one = pd.DataFrame({"a": [0]})

W, H = 688, 517
AX = "#262626"
SANS = "Liberation Sans, Arial, Helvetica, sans-serif"
SERIF = "Liberation Serif, Times New Roman, serif"

xs = alt.Scale(domain=X_DOMAIN, nice=False, zero=False)
ys = alt.Scale(domain=Y_DOMAIN, nice=False, zero=False)
xaxis = alt.Axis(values=x_ticks, format="d", title=None, grid=False, ticks=False, domain=False,
                 labelFont=SANS, labelFontSize=29, labelColor=AX, labelPadding=18,
                 labelFlush=False, labelOverlap=False)
yaxis = alt.Axis(values=y_ticks, format="d", title=None, grid=False, ticks=False, domain=False,
                 labelFont=SANS, labelFontSize=31, labelColor=AX, labelPadding=14,
                 labelFlush=False, labelOverlap=False)


def X(f):
    return alt.X(f"{f}:Q", scale=xs, axis=xaxis)


def Y(f):
    return alt.Y(f"{f}:Q", scale=ys, axis=yaxis)


lines = alt.Chart(tracks_df).mark_line(strokeWidth=1.9, interpolate="catmull-rom").encode(
    x=X("h"), y=Y("p"), detail="tid:N", order="k:Q",
    color=alt.Color("c:N", scale=alt.Scale(domain=list(COLORS.keys()), range=list(COLORS.values())), legend=None),
)

sup_line = alt.Chart(sup_df).mark_line(color="black", strokeWidth=4.5, strokeDash=[13, 8]).encode(
    x=X("h"), y=Y("p"), order="k:Q")

markers = alt.Chart(markers_df).mark_point(
    shape="M-1,-1L1,1M-1,1L1,-1", size=115, filled=False, color="black", strokeWidth=2, opacity=1
).encode(x=X("h"), y=Y("p"))

tick_b = alt.Chart(xt_df).mark_rule(color=AX, strokeWidth=2.5).encode(
    x=X("t"), y=alt.value(H), y2=alt.value(H - 9))
tick_t = alt.Chart(xt_df).mark_rule(color=AX, strokeWidth=2.5).encode(
    x=X("t"), y=alt.value(0), y2=alt.value(9))
tick_l = alt.Chart(yt_df).mark_rule(color=AX, strokeWidth=2.5).encode(
    y=Y("t"), x=alt.value(0), x2=alt.value(9))

frame_l = alt.Chart(one).mark_rule(color=AX, strokeWidth=2.8).encode(
    x=alt.value(0), y=alt.value(0), y2=alt.value(H))
frame_t = alt.Chart(one).mark_rule(color=AX, strokeWidth=2.8).encode(
    x=alt.value(0), x2=alt.value(W), y=alt.value(0))
frame_b = alt.Chart(one).mark_rule(color=AX, strokeWidth=2.8).encode(
    x=alt.value(0), x2=alt.value(W), y=alt.value(H))

# legend
leg_box = alt.Chart(one).mark_rect(fill="white", stroke=AX, strokeWidth=2.8).encode(
    x=alt.value(460), x2=alt.value(678), y=alt.value(18), y2=alt.value(80))
leg_line = alt.Chart(one).mark_rule(color="black", strokeWidth=4.5, strokeDash=[13, 8]).encode(
    x=alt.value(466), x2=alt.value(531), y=alt.value(47))


def txt(s, x, y, size, font=SANS, style="normal", angle=0, color="black"):
    return alt.Chart(pd.DataFrame({"s": [s]})).mark_text(
        align="left", baseline="alphabetic", font=font, fontSize=size, fontStyle=style,
        angle=angle, color=color
    ).encode(x=alt.value(x), y=alt.value(y), text="s:N")


leg_T = txt("T", 534, 57, 34, color=AX)
leg_sub = txt("sup", 555, 71, 26, color=AX)
leg_eq = txt("=30K", 596, 57, 34, color=AX)

# axis titles (LaTeX look)
yt_p = txt("p", -73, 300, 40, font=SERIF, style="italic", angle=270, color=AX)
yt_u = txt("[bar]", -73, 262, 40, font=SERIF, angle=270, color=AX)
xt_h = txt("h", 240, 609, 44, font=SERIF, style="italic", color=AX)
xt_o = txt("out", 260, 617, 30, font=SERIF, style="italic", color=AX)
xt_u = txt("[kJ/kg]", 314, 609, 46, font=SERIF, color=AX)

chart = alt.layer(
    lines, sup_line, markers,
    tick_b, tick_t, tick_l, frame_l, frame_t, frame_b,
    leg_box, leg_line, leg_T, leg_sub, leg_eq,
    yt_p, yt_u, xt_h, xt_o, xt_u,
).properties(
    width=W, height=H,
    autosize=alt.AutoSizeParams(type="none"),
    padding={"left": 109, "top": 0, "right": 0, "bottom": 110},
).configure_view(stroke="transparent").configure(background="white")

chart.save("out.html", embed_options={"renderer": "svg", "actions": False})
